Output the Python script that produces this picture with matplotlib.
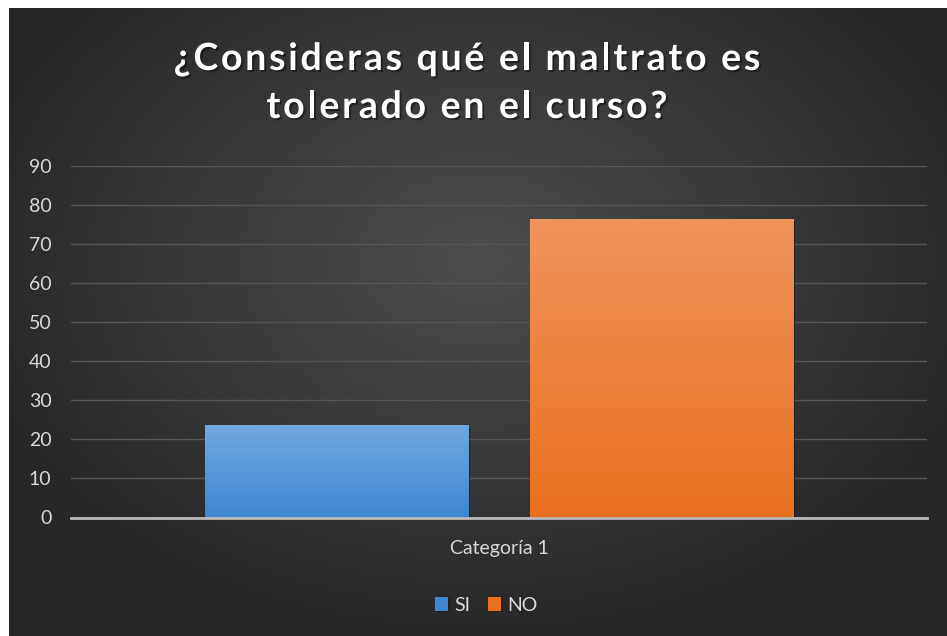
import matplotlib
matplotlib.use("Agg")
import matplotlib.pyplot as plt
import matplotlib.patheffects as pe
from matplotlib.font_manager import findfont, FontProperties, get_font
import numpy as np
from matplotlib.colors import LinearSegmentedColormap

# datos
categorias = ["Categoría 1"]
series = ["SI", "NO"]
valores = [23.6, 76.4]
yticks = [0, 10, 20, 30, 40, 50, 60, 70, 80, 90]
titulo = ["¿Consideras qué el maltrato es", "tolerado en el curso?"]

# colores (arriba, abajo) para el degradado de cada barra
col_barras = [("#70a9e0", "#3f87d2"), ("#f0945c", "#e8701f")]
col_texto = "#d9d9d9"

plt.rcParams["font.family"] = ["Lato", "DejaVu Sans"]

W, H = 947, 636
fig = plt.figure(figsize=(W / 100, H / 100), dpi=100)
fig.patch.set_facecolor("white")

# fondo con degradado radial
bg = fig.add_axes([9 / W, 0, 938 / W, 628 / H], zorder=0)
yy, xx = np.mgrid[0:1:300j, 0:1:450j]
r = np.sqrt(((xx - 0.5) / 0.75) ** 2 + ((yy - 0.40) / 0.8) ** 2)
r = np.clip(r / 0.75, 0, 1)
cm_bg = LinearSegmentedColormap.from_list("bg", ["#4e4e4e", "#3a3a3a", "#272727"])
bg.imshow(r, cmap=cm_bg, aspect="auto", extent=[0, 1, 0, 1], origin="upper")
bg.set_axis_off()

ax = fig.add_axes([71 / W, 1 - 517.5 / H, 856 / W, (517.5 - 166) / H], zorder=1)
ax.set_facecolor("none")

x = np.arange(len(categorias))
ancho = 0.308
offsets = [-0.19, 0.19]
barras = []
for i, s in enumerate(series):
    b = ax.bar(x + offsets[i], [valores[i]], width=ancho, color=col_barras[i][1],
               label=s, zorder=3, edgecolor="none")
    barras.append(b)

# degradado vertical dentro de cada barra
for i, b in enumerate(barras):
    cmap = LinearSegmentedColormap.from_list("c%d" % i, [col_barras[i][1], col_barras[i][0]])
    for rect in b:
        x0, y0 = rect.get_x(), rect.get_y()
        w, h = rect.get_width(), rect.get_height()
        grad = np.linspace(0, 1, 200).reshape(-1, 1)
        im = ax.imshow(grad, cmap=cmap, aspect="auto", origin="lower",
                       extent=[x0, x0 + w, y0, y0 + h], zorder=3.5)
        im.set_clip_path(rect)
        rect.set_path_effects([pe.withSimplePatchShadow(offset=(1, -1), shadow_rgbFace="#1a1a1a", alpha=0.6)])

ax.set_xlim(-0.5, 0.5)
ax.set_ylim(0, 90)

ax.set_yticks(yticks)
ax.yaxis.grid(True, color="#565656", linewidth=1)
ax.set_axisbelow(True)
for sp in ["top", "right", "left"]:
    ax.spines[sp].set_visible(False)
ax.spines["bottom"].set_color("#b8b8b8")
ax.spines["bottom"].set_linewidth(2)
ax.spines["bottom"].set_zorder(5)
ax.tick_params(axis="y", length=0, labelsize=14, labelcolor=col_texto, pad=14)
ax.set_xticks(x)
ax.set_xticklabels(categorias)
ax.tick_params(axis="x", length=0, labelsize=14, labelcolor=col_texto, pad=16)

# leyenda
leg = ax.legend(loc="upper center", bbox_to_anchor=(0.485, -0.175), ncol=2, frameon=False,
                fontsize=14, handlelength=0.7, handleheight=0.7, handletextpad=0.3,
                columnspacing=0.9, labelcolor=col_texto)

# titulo con espaciado entre letras
tam = 27
espacio = 2.7  # px extra entre letras
fp = FontProperties(family="Lato", weight="bold", size=tam)
fuente = get_font(findfont(fp))
fuente.set_size(tam, 100)
sombra = [pe.withSimplePatchShadow(offset=(1.5, -1.5), shadow_rgbFace="black", alpha=0.4)]
centro_x = 467
for linea, base in zip(titulo, [70, 118]):
    avances = [fuente.load_char(ord(c)).linearHoriAdvance / 65536 for c in linea]
    total = sum(avances) + espacio * (len(linea) - 1)
    px = centro_x - total / 2
    for c, a in zip(linea, avances):
        if c != " ":
            fig.text(px / W, 1 - base / H, c, ha="left", va="baseline", fontproperties=fp,
                     color="white", path_effects=sombra)
        px += a + espacio

fig.savefig("out.png", dpi=100)
